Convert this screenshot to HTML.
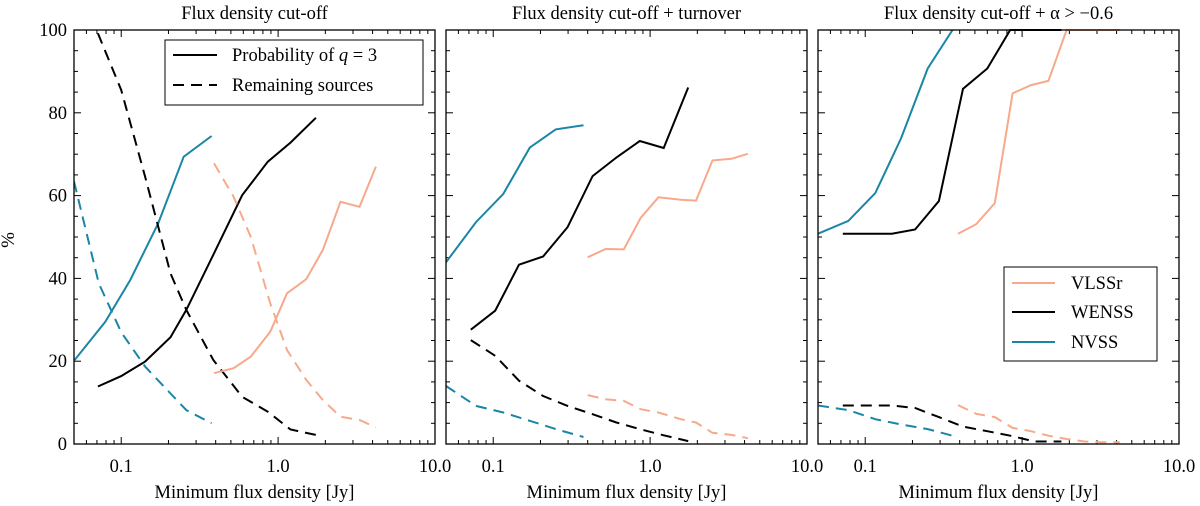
<!DOCTYPE html>
<html><head><meta charset="utf-8">
<style>
html,body{margin:0;padding:0;background:#fff;}
svg{display:block;font-family:"Liberation Serif","DejaVu Serif",serif;}
</style></head>
<body>
<svg id="chart" width="1200" height="506" viewBox="0 0 1200 506" xmlns="http://www.w3.org/2000/svg">
<text x="14" y="240" font-size="19" text-anchor="middle" transform="rotate(-90 14 240)">%</text>
</svg>
<script>
const panelTitles = ["Flux density cut-off", "Flux density cut-off + turnover", "Flux density cut-off + \u03b1 > \u22120.6"];
const yTicks = [0, 20, 40, 60, 80, 100];
const xTickVals = [0.1, 1, 10];
const xTickLabels = ["0.1", "1.0", "10.0"];
// panel 1
const p1_nvss_x = [0.05, 0.079, 0.114, 0.172, 0.25, 0.377];
const p1_nvss_q = [20.1, 29.5, 39.6, 53.3, 69.4, 74.4];
const p1_nvss_r = [63.4, 38.8, 27, 18.7, 12.2, 8.2, 5];
const p1_nvss_rx = [0.05, 0.072, 0.1, 0.142, 0.206, 0.26, 0.377];
const p1_wenss_x = [0.071, 0.1, 0.142, 0.206, 0.26, 0.386, 0.59, 0.86, 1.2, 1.74];
const p1_wenss_q = [13.9, 16.4, 19.9, 25.8, 32.4, 45.7, 60.1, 68.2, 72.8, 78.8];
const p1_wenss_r = [99.2, 85.5, 64.6, 41.2, 32.4, 20.3, 11.4, 7.8, 3.5, 2.2];
const p1_vlss_x = [0.39, 0.52, 0.67, 0.89, 1.14, 1.51, 1.93, 2.5, 3.3, 4.2];
const p1_vlss_q = [17.1, 18.3, 21.1, 27.1, 36.4, 39.8, 46.9, 58.5, 57.3, 67];
const p1_vlss_r = [67.8, 59.7, 50, 34, 22.7, 15.5, 10.6, 6.6, 5.8, 4];
// panel 2
const p2_nvss_x = [0.05, 0.0777, 0.116, 0.171, 0.25, 0.376];
const p2_nvss_q = [43.9, 53.6, 60.4, 71.6, 76, 77];
const p2_nvss_r = [14, 9.2, 7.6, 5.6, 3.6, 1.7];
const p2_wenss_x = [0.072, 0.103, 0.146, 0.208, 0.298, 0.43, 0.61, 0.86, 1.22, 1.75];
const p2_wenss_q = [27.6, 32.2, 43.3, 45.3, 52.4, 64.7, 69.2, 73.2, 71.5, 86.1];
const p2_wenss_r = [25.1, 21.3, 15.3, 11.6, 9.2, 7.2, 5.2, 3.6, 2.1, 0.7];
const p2_vlss_x = [0.4, 0.52, 0.68, 0.87, 1.13, 1.57, 1.96, 2.5, 3.3, 4.2];
const p2_vlss_q = [45.1, 47.1, 47, 54.6, 59.6, 59, 58.8, 68.5, 68.9, 70.1];
const p2_vlss_r = [11.8, 10.8, 10.4, 8.4, 7.6, 6, 5.2, 2.7, 2.2, 1.4];
// panel 3
const p3_nvss_x = [0.05, 0.078, 0.116, 0.169, 0.25, 0.36];
const p3_nvss_q = [50.8, 53.9, 60.6, 73.8, 90.7, 100];
const p3_nvss_r = [9.3, 8.2, 6, 4.7, 3.6, 2];
const p3_wenss_x = [0.072, 0.148, 0.208, 0.295, 0.42, 0.6, 0.84, 1.2, 1.78];
const p3_wenss_q = [50.8, 50.8, 51.8, 58.7, 85.8, 90.7, 100, 100, 100];
const p3_wenss_rx = [0.072, 0.148, 0.208, 0.295, 0.42, 0.6, 0.84, 1.2, 1.78];
const p3_wenss_r = [9.3, 9.3, 8.7, 6.5, 4.2, 3.1, 2, 0.6, 0.6];
const p3_vlss_x = [0.39, 0.51, 0.67, 0.87, 1.14, 1.47, 1.92, 2.5, 3.3, 4.2];
const p3_vlss_q = [50.8, 53.1, 58.2, 84.7, 86.7, 87.7, 100, 100, 100, 100];
const p3_vlss_r = [9.4, 7.3, 6.5, 3.9, 3.1, 2, 1.2, 0.6, 0.4, 0.4];

const NS = "http://www.w3.org/2000/svg";
const svg = document.getElementById("chart");
const C = {nvss: "#1a86a6", wenss: "#000000", vlss: "#f7a98b"};
const panelLefts = [74, 446, 818];
const PW = 361, TOP = 30, BOT = 444;
const FS = 18.5;
const XMIN = Math.log10(0.05), XMAX = Math.log10(10);
function mk(tag, attrs, parent) {
  const e = document.createElementNS(NS, tag);
  for (const k in attrs) e.setAttribute(k, attrs[k]);
  (parent || svg).appendChild(e);
  return e;
}
function xs(p, v) { return panelLefts[p] + (Math.log10(v) - XMIN) / (XMAX - XMIN) * PW; }
function ys(v) { return BOT - v / 100 * (BOT - TOP); }

const series = [
  [[p1_nvss_x, p1_nvss_q, "nvss", 0], [p1_nvss_rx, p1_nvss_r, "nvss", 1], [p1_wenss_x, p1_wenss_q, "wenss", 0], [p1_wenss_x, p1_wenss_r, "wenss", 1], [p1_vlss_x, p1_vlss_q, "vlss", 0], [p1_vlss_x, p1_vlss_r, "vlss", 1]],
  [[p2_nvss_x, p2_nvss_q, "nvss", 0], [p2_nvss_x, p2_nvss_r, "nvss", 1], [p2_wenss_x, p2_wenss_q, "wenss", 0], [p2_wenss_x, p2_wenss_r, "wenss", 1], [p2_vlss_x, p2_vlss_q, "vlss", 0], [p2_vlss_x, p2_vlss_r, "vlss", 1]],
  [[p3_nvss_x, p3_nvss_q, "nvss", 0], [p3_nvss_x, p3_nvss_r, "nvss", 1], [p3_wenss_x, p3_wenss_q, "wenss", 0], [p3_wenss_rx, p3_wenss_r, "wenss", 1], [p3_vlss_x, p3_vlss_q, "vlss", 0], [p3_vlss_x, p3_vlss_r, "vlss", 1]]
];

for (let p = 0; p < 3; p++) {
  const L = panelLefts[p], R = L + PW;
  const g = mk("g", {});
  
  
  const clipId = "clip" + p;
  const cp = mk("clipPath", {id: clipId}, g);
  mk("rect", {x: L, y: TOP - 1, width: PW, height: BOT - TOP + 1}, cp);
  const t = mk("text", {x: L + PW / 2, y: 19, "font-size": FS, "text-anchor": "middle"}, g);
  t.textContent = panelTitles[p];
  
  
  const xl = mk("text", {x: L + PW / 2, y: 498, "font-size": FS, "text-anchor": "middle"}, g);
  xl.textContent = "Minimum flux density [Jy]";
  
  
  for (let v = 0; v <= 100; v += 5) {
    const major = v % 20 === 0, len = major ? 7 : 4, y = ys(v);
    mk("line", {x1: L, x2: L + len, y1: y, y2: y, stroke: "#000", "stroke-width": 1}, g);
    mk("line", {x1: R, x2: R - len, y1: y, y2: y, stroke: "#000", "stroke-width": 1}, g);
  }
  if (p === 0) {
    yTicks.forEach(v => {
      const tx = mk("text", {x: L - 7, y: ys(v) + 6, "font-size": FS, "text-anchor": "end"}, g);
      tx.textContent = String(v);
      
      
    });
  }
  for (let d = -2; d <= 1; d++) {
    for (let m = 1; m <= 9; m++) {
      const v = m * Math.pow(10, d);
      if (v < 0.05 - 1e-9 || v > 10 + 1e-9) continue;
      const x = xs(p, v), len = m === 1 ? 7 : 4;
      mk("line", {x1: x, x2: x, y1: BOT, y2: BOT - len, stroke: "#000", "stroke-width": 1}, g);
      mk("line", {x1: x, x2: x, y1: TOP, y2: TOP + len, stroke: "#000", "stroke-width": 1}, g);
    }
  }
  xTickVals.forEach((v, i) => {
    const tx = mk("text", {x: xs(p, v), y: 472, "font-size": FS, "text-anchor": "middle"}, g);
    tx.textContent = xTickLabels[i];
    
    
  });
  const sg = mk("g", {"clip-path": "url(#" + clipId + ")"}, g);
  series[p].forEach(s => {
    const pts = s[0].map((xv, i) => xs(p, xv).toFixed(1) + "," + ys(s[1][i]).toFixed(1)).join(" ");
    const pl = mk("polyline", {points: pts, fill: "none", stroke: C[s[2]], "stroke-width": 2, "stroke-linejoin": "miter"}, sg);
    if (s[3]) pl.setAttribute("stroke-dasharray", "11,7");
    
    
  });
  const fr = mk("rect", {x: L, y: TOP, width: PW, height: BOT - TOP, fill: "none", stroke: "#000", "stroke-width": 1.3}, g);
  
  
}

const lg1 = mk("g", {});


mk("rect", {x: 165, y: 40, width: 258, height: 65, fill: "#fff", stroke: "#000", "stroke-width": 1}, lg1);
mk("line", {x1: 173, x2: 217, y1: 55, y2: 55, stroke: "#000", "stroke-width": 2}, lg1);
mk("line", {x1: 173, x2: 217, y1: 85, y2: 85, stroke: "#000", "stroke-width": 2, "stroke-dasharray": "11,7"}, lg1);
const le1 = mk("text", {x: 232, y: 61, "font-size": FS}, lg1);
le1.innerHTML = 'Probability of <tspan font-style="italic">q</tspan> = 3';


const le2 = mk("text", {x: 232, y: 91, "font-size": FS}, lg1);
le2.textContent = "Remaining sources";



const lg3 = mk("g", {});


mk("rect", {x: 1004, y: 267, width: 153, height: 94, fill: "#fff", stroke: "#000", "stroke-width": 1}, lg3);
[["VLSSr", "vlss", 283], ["WENSS", "wenss", 312], ["NVSS", "nvss", 342]].forEach(e => {
  mk("line", {x1: 1012, x2: 1055, y1: e[2], y2: e[2], stroke: C[e[1]], "stroke-width": 2}, lg3);
  const tx = mk("text", {x: 1071, y: e[2] + 6, "font-size": FS}, lg3);
  tx.textContent = e[0];
  
  
});
</script>
</body></html>
